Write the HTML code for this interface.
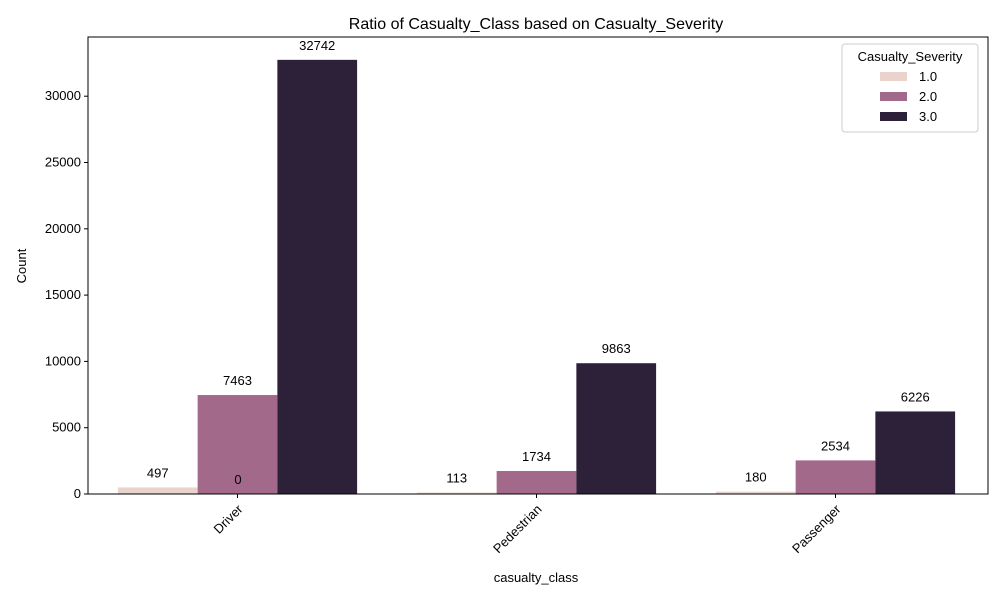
<!DOCTYPE html>
<html><head><meta charset="utf-8"><style>
body{margin:0;background:#fff}
svg{font-family:"Liberation Sans","DejaVu Sans",sans-serif}
</style></head><body>
<svg id="c" width="1000" height="600" xmlns="http://www.w3.org/2000/svg"></svg>
<script>
const categories = ["Driver","Pedestrian","Passenger"];
const severities = ["1.0","2.0","3.0"];
const sev1 = [497,113,180];
const sev2 = [7463,1734,2534];
const sev3 = [32742,9863,6226];
const yTicks = [0,5000,10000,15000,20000,25000,30000];
const colors = ["#ebd3cd","#a3698a","#2d213a"];
const series=[sev1,sev2,sev3];
const NS="http://www.w3.org/2000/svg";
const svg=document.getElementById('c');
const L=88,R=988,T=37,B=494,yMax=34465;
const y=v=>B-(v/yMax)*(B-T);
const step=299;
const cx=i=>237.5+step*i;
const bw=step*0.8/3;
function mk(t,a,txt){const e=document.createElementNS(NS,t);for(const k in a)e.setAttribute(k,a[k]);if(txt!==undefined)e.textContent=txt;svg.appendChild(e);return e;}
let e;
e=mk('text',{x:536,y:29,'text-anchor':'middle','font-size':16,fill:'#000'},'Ratio of Casualty_Class based on Casualty_Severity');

yTicks.forEach(t=>{
 e=mk('line',{x1:L-4,x2:L,y1:y(t),y2:y(t),stroke:'#000'});
 
 e=mk('text',{x:L-7,y:y(t)+4,'text-anchor':'end','font-size':13},t);
 
});
series.forEach((s,j)=>{
 s.forEach((v,i)=>{
  const x0=cx(i)-1.5*bw+j*bw;
  e=mk('rect',{x:x0,y:y(v),width:bw,height:B-y(v),fill:colors[j]});
  
  e=mk('text',{x:x0+bw/2,y:y(v)-10,'text-anchor':'middle','font-size':13},v);
  
 });
});
e=mk('text',{x:238,y:484,'text-anchor':'middle','font-size':13},'0');

e=mk('rect',{x:L,y:T,width:R-L,height:B-T,fill:'none',stroke:'#000','stroke-width':1});

categories.forEach((c,i)=>{
 e=mk('line',{x1:cx(i),x2:cx(i),y1:B,y2:B+4,stroke:'#000'});
 
 e=mk('text',{x:cx(i)+6,y:B+16,'text-anchor':'end','font-size':13,transform:`rotate(-45 ${cx(i)+6} ${B+16})`},c);
 
});
e=mk('text',{x:536,y:582,'text-anchor':'middle','font-size':13},'casualty_class');

e=mk('text',{x:26,y:266,'text-anchor':'middle','font-size':13,transform:'rotate(-90 26 266)'},'Count');

e=mk('rect',{x:842,y:44,width:136,height:88,rx:3,fill:'#fff',stroke:'#ccc'});

e=mk('text',{x:910,y:61,'text-anchor':'middle','font-size':13},'Casualty_Severity');

severities.forEach((s,j)=>{
 const yy=72+j*20;
 e=mk('rect',{x:880,y:yy,width:27,height:9,fill:colors[j]});
 
 e=mk('text',{x:919,y:yy+9,'font-size':13},s);
 
});
</script>
</body></html>
